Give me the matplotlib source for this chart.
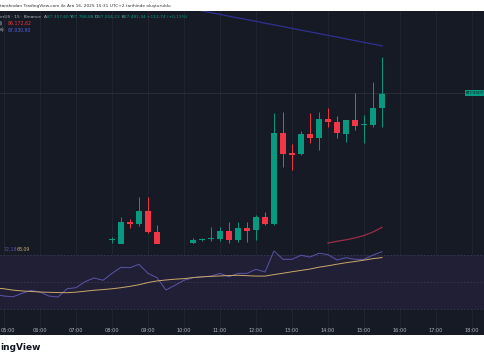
import matplotlib
matplotlib.use("Agg")
import matplotlib.pyplot as plt

# 15 dk mumlar (BTC/USDT, Binance) - gorunen kisim
times = ["08:00", "08:15", "08:30", "08:45", "09:00", "09:15",
         "10:15", "10:30", "10:45", "11:00", "11:15", "11:30", "11:45",
         "12:00", "12:15", "12:30", "12:45", "13:00", "13:15", "13:30",
         "13:45", "14:00", "14:15", "14:30", "14:45", "15:00", "15:15", "15:30"]
opens = [86290, 86226, 86436, 86420, 86525, 86355,
         86266, 86290, 86299, 86299, 86363, 86290, 86388,
         86371, 86477, 86420, 87157, 86995, 86987, 87149,
         87117, 87270, 87246, 87149, 87262, 87222, 87222, 87357.60]
highs = [86315, 86477, 86460, 86639, 86639, 86412,
         86307, 86307, 86396, 86396, 86436, 86436, 86436,
         86493, 86517, 87319, 87327, 87068, 87173, 87319,
         87327, 87360, 87295, 87262, 87481, 87303, 87570, 87768.88]
lows = [86266, 86180, 86388, 86404, 86347, 86180,
        86258, 86282, 86282, 86282, 86266, 86274, 86274,
        86290, 86412, 86412, 86882, 86857, 86979, 87076,
        87019, 87206, 87117, 87084, 87181, 87076, 87206, 87204.23]
closes = [86294, 86436, 86420, 86525, 86355, 86220,
          86290, 86299, 86302, 86363, 86290, 86388, 86363,
          86477, 86420, 87157, 86987, 86979, 87149, 87117,
          87270, 87246, 87157, 87262, 87214, 87230, 87360, 87481.34]

# hareketli ortalamalar
ma_blue_start = "10:00"
ma_blue = [88174, 88160, 88146, 88131, 88118, 88103, 88089, 88075, 88061, 88046,
           88033, 88019, 88004, 87990, 87976, 87962, 87948, 87934, 87919, 87905,
           87891, 87877, 87863]
ma_red_start = "14:00"
ma_red = [86266, 86280, 86292, 86307, 86327, 86355, 86393]

# RSI ve RSI-MA (04:45 - 15:30)
rsi_start = "04:45"
rsi = [41.0, 39.6, 39.1, 41.6, 43.8, 42.6, 39.6, 38.9, 45.0, 45.8, 50.2,
       53.0, 51.3, 56.4, 60.9, 60.6, 63.1, 56.4, 53.2, 44.1, 47.6, 51.3,
       53.2, 53.9, 54.4, 56.4, 53.9, 56.4, 56.4, 59.4, 57.4, 73.0, 66.8,
       66.8, 69.8, 68.5, 71.3, 70.3, 66.3, 68.0, 66.8, 66.8, 70.0, 72.4]
rsi_ma = [45.6, 45.0, 44.0, 43.4, 43.0, 42.6, 42.4, 42.2, 42.1, 42.5, 43.2,
          43.9, 44.4, 45.0, 45.8, 46.8, 48.0, 49.6, 50.8, 51.5, 52.1, 52.5,
          53.3, 53.8, 54.2, 54.5, 54.8, 55.0, 54.7, 54.4, 54.4, 55.5, 56.5,
          57.6, 58.6, 59.6, 61.0, 62.0, 63.2, 64.3, 65.2, 66.2, 67.3, 68.1]

hour_labels = ["05:00", "06:00", "07:00", "08:00", "09:00", "10:00", "11:00",
               "12:00", "13:00", "14:00", "15:00", "16:00", "17:00", "18:00"]


def hr(t):
    h, m = t.split(":")
    return int(h) + int(m) / 60


def seq(start, n):
    return [hr(start) + i * 0.25 for i in range(n)]


UP = "#089981"
DOWN = "#f23645"
BG = "#161a25"
TXT = "#b2b5be"
W, H = 485, 360
XL = (5 - 4 / 36, 5 + 481 / 36)


def box(top, bottom):
    return [0, 1 - bottom / H, 1, (bottom - top) / H]


fig = plt.figure(figsize=(4.85, 3.6), dpi=100)
fig.patch.set_facecolor("white")

bg = fig.add_axes(box(11, 335))
bg.set_facecolor(BG)
bg.set_xlim(*XL)
bg.set_ylim(0, 1)
for s in bg.spines.values():
    s.set_visible(False)
bg.set_xticks([hr(t) for t in hour_labels])
bg.set_xticklabels([])
bg.tick_params(length=0)
bg.set_yticks([])
bg.grid(axis="x", color="#222633", lw=0.6)

# ana grafik
ax = fig.add_axes(box(11, 244))
ax.set_facecolor("none")
ax.set_xlim(*XL)
ax.set_ylim(86258, 88145)
ax.axis("off")

x = [hr(t) for t in times]
ax.axhline(closes[-1], color="#2c303c", lw=0.6)
for xi, o, hi, lo, c in zip(x, opens, highs, lows, closes):
    col = UP if c >= o else DOWN
    ax.vlines(xi, lo, hi, color=col, lw=0.7)
    body = max(abs(c - o), 9)
    ax.bar(xi, body, bottom=min(o, c), width=0.19, color=col, lw=0)

ax.plot(seq(ma_blue_start, len(ma_blue)), ma_blue, color="#2f3190", lw=0.9)
ax.plot(seq(ma_red_start, len(ma_red)), ma_red, color="#9c2c4a", lw=0.9)

# RSI paneli
rx = fig.add_axes(box(244, 322))
rx.set_facecolor("none")
rx.set_xlim(*XL)
rx.set_ylim(20.4, 78.15)
rx.axis("off")
rx.axhspan(30, 70, color="#211f36", lw=0)
for lvl in (70, 50, 30):
    rx.axhline(lvl, color="#3a3850", lw=0.6, ls=(0, (2, 2)))
rt = seq(rsi_start, len(rsi))
rx.plot(rt, rsi, color="#5b55a8", lw=0.7)
rx.plot(rt, rsi_ma, color="#c9a96a", lw=0.7)

# zaman ekseni
for t in hour_labels:
    px = 4 + 36 * (hr(t) - 5)
    if px < 10:
        fig.text(0.5 / W, 1 - 330 / H, t, color=TXT, fontsize=3.6,
                 ha="left", va="center")
    else:
        fig.text(px / W, 1 - 330 / H, t, color=TXT, fontsize=3.6,
                 ha="center", va="center")

# metinler
fig.text(0, 1 - 6 / H, "tarafından TradingView.com ile Ara 16, 2025 15:31 UTC+2 tarihinde oluşturuldu",
         fontsize=3.1, color="#333333", ha="left", va="center")

y1 = 1 - 17 / H
parts = [("erUS · 15 · Binance  ", TXT), ("A", TXT), ("87.357,60 ", UP),
         ("Y", TXT), ("87.768,88 ", UP), ("D", TXT), ("87.204,23 ", UP),
         ("K", TXT), ("87.481,34 ", UP), ("+113,74 (+0,13%)", UP)]
xpos = 0.0
renderer = fig.canvas.get_renderer()
for s, c in parts:
    tt = fig.text(xpos, y1, s, fontsize=3.1, color=c, ha="left", va="center")
    xpos += tt.get_window_extent(renderer).width / W

fig.text(0, 1 - 23.5 / H, "l)", fontsize=3.3, color=TXT, ha="left", va="center")
fig.text(8 / W, 1 - 23.5 / H, "86.172,62", fontsize=3.3, color=DOWN, ha="left", va="center")
fig.text(0, 1 - 30 / H, "e)", fontsize=3.3, color=TXT, ha="left", va="center")
fig.text(8 / W, 1 - 30 / H, "87.030,90", fontsize=3.3, color="#5560e0", ha="left", va="center")

fig.text(4 / W, 1 - 249 / H, "72,18", fontsize=3.3, color="#5b55a8", ha="left", va="center")
fig.text(17 / W, 1 - 249 / H, "68,09", fontsize=3.3, color="#c9a96a", ha="left", va="center")

fig.text(466 / W, 1 - 93 / H, "BTCUSDT", fontsize=2.8, color="#0e1a1a", ha="left", va="center",
         bbox=dict(boxstyle="square,pad=0.25", fc=UP, ec="none"))

fig.text(0, 1 - 348 / H, "ingView", fontsize=6.5, fontweight="bold", color="#131722",
         ha="left", va="center")

fig.savefig("out.png", dpi=100)
